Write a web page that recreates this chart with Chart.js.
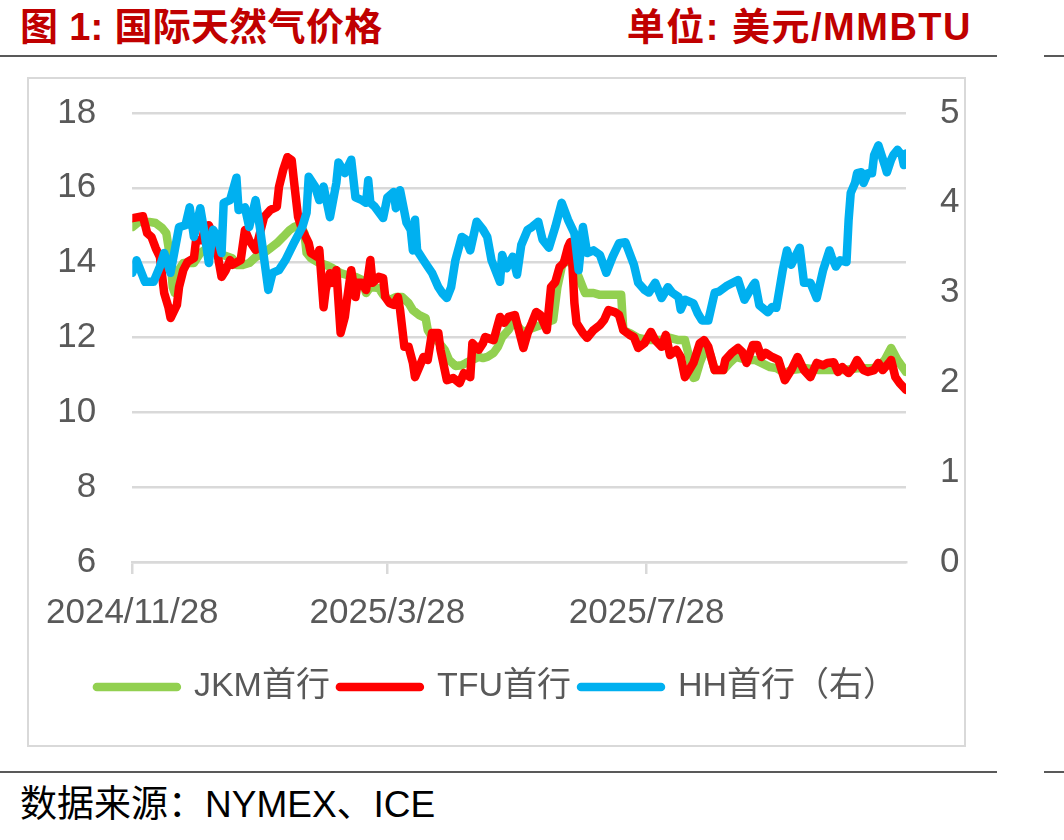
<!DOCTYPE html>
<html>
<head>
<meta charset="utf-8">
<script src="https://cdn.jsdelivr.net/npm/chart.js@4"></script>
<style>
  body { margin: 0; background: #fff; font-family: 'Liberation Sans', 'Noto Sans CJK SC', sans-serif; }
  #page { position: relative; width: 1064px; height: 840px; overflow: hidden; }
  .title { position: absolute; top: 7px; font-size: 38px; font-weight: bold; color: #c00000; line-height: 40px; white-space: nowrap; }
  .rule { position: absolute; height: 2px; background: #595959; }
  #box { position: absolute; left: 27px; top: 77px; width: 939px; height: 670px; border: 2.5px solid #d9d9d9; box-sizing: border-box; }
  #wrap { position: absolute; left: 28px; top: 78px; width: 938px; height: 667px; }
  #source { position: absolute; left: 20px; top: 785px; font-size: 37px; color: #000; line-height: 40px; white-space: nowrap; }
</style>
</head>
<body>
<div id="page">
  <div class="title" style="left:20px; letter-spacing:0.3px">图 1: 国际天然气价格</div>
  <div class="title" style="right:92px; letter-spacing:1.5px">单位: 美元/MMBTU</div>
  <div class="rule" style="left:0; top:55px; width:997px"></div>
  <div class="rule" style="left:1044px; top:55px; width:20px"></div>
  <div id="box"></div>
  <div id="wrap"><canvas id="chart"></canvas></div>
  <div class="rule" style="left:0; top:771px; width:997px"></div>
  <div class="rule" style="left:1044px; top:771px; width:20px"></div>
  <div id="source">数据来源：NYMEX、ICE</div>
</div>
<script>
// days counted from 2024/11/28
const tickDays = [0, 120, 242];
const tickLabels = ['2024/11/28', '2025/3/28', '2025/7/28'];

const jkmDays = [0,3,8,11,14,16,18,19,20,21,24,27,29,32,34,38,43,47,49,52,55,58,62,65,68,71,74,76,79,81,
  82,84,87,91,94,98,101,105,108,110,112,116,118,121,124,127,130,132,135,138,139,141,144,147,149,152,155,157,160,163,
  165,167,170,172,174,177,179,181,184,186,188,192,195,198,200,202,203,205,207,210,213,217,220,224,227,230,231,234,238,243,
  248,253,257,260,262,264,265,267,270,272,274,278,281,284,289,293,300,303,307,310,317,323,329,335,341,348,351,354,356,357,
  360,364];
const jkmValues = [14.95,15.09,15.09,15.06,14.93,14.79,14.07,13.35,13.19,13.72,
  13.99,13.99,13.99,14.26,14.34,14.28,14.20,14.12,13.94,13.94,
  13.99,14.15,14.26,14.39,14.52,14.69,14.87,14.95,15.01,14.79,
  14.26,14.12,14.02,13.94,13.86,13.72,13.67,13.62,13.54,13.19,
  13.35,13.32,13.14,13.00,13.08,13.08,12.92,12.73,12.60,12.52,
  12.20,12.01,11.88,11.67,11.40,11.24,11.26,11.32,11.40,11.48,
  11.45,11.48,11.59,11.75,12.01,12.20,12.39,12.33,12.12,12.20,
  12.25,12.33,12.41,12.47,13.35,13.88,14.02,14.02,13.99,13.62,
  13.19,13.19,13.14,13.14,13.14,13.14,12.20,12.12,11.99,11.93,
  11.93,11.99,11.93,11.93,11.48,10.92,10.94,11.32,11.75,11.53,
  11.13,11.13,11.32,11.48,11.40,11.40,11.21,11.18,11.05,11.13,
  11.18,11.13,11.13,11.13,11.18,11.18,11.21,11.40,11.61,11.72,
  11.40,11.08];

const tfuDays = [0,5,7,9,11,13,15,17,18,21,22,24,26,29,30,33,34,36,37,39,40,42,44,46,47,51,53,55,58,62,
  65,68,69,71,73,75,76,78,80,83,84,87,88,90,91,93,94,96,98,100,101,103,105,106,108,110,112,113,116,118,
  119,121,123,125,126,128,130,132,133,135,137,139,141,144,145,148,151,154,156,159,160,163,165,166,170,173,175,177,180,184,
  186,188,190,192,195,197,199,201,203,205,206,207,208,209,212,214,217,220,222,224,227,229,231,234,236,238,241,244,246,249,
  251,253,256,258,260,262,264,267,269,271,274,278,279,282,285,287,289,292,294,296,298,301,304,307,310,313,316,319,322,325,
  327,330,332,334,337,339,341,344,346,349,351,353,356,357,359,361,364];
const tfuValues = [15.19,15.24,14.79,14.69,14.39,14.15,13.19,12.81,12.52,12.87,
  13.35,13.80,14.02,14.12,14.60,14.60,14.95,15.00,14.87,14.69,
  14.26,13.62,13.80,14.07,13.94,14.07,14.87,14.60,14.34,15.22,
  15.41,15.49,16.02,16.48,16.82,16.74,16.21,15.22,14.87,14.52,
  14.26,14.15,14.34,12.81,13.27,13.72,13.46,13.80,12.12,12.55,
  13.00,13.80,13.08,13.46,13.46,13.27,14.07,13.46,13.62,13.59,
  13.08,12.92,12.87,13.08,12.73,11.75,11.75,11.32,10.94,11.21,
  11.48,11.40,12.12,12.12,11.67,10.86,10.92,10.78,11.05,10.94,
  11.85,11.67,11.85,12.01,11.93,12.55,12.39,12.55,12.60,11.72,
  12.12,12.39,12.68,12.60,12.20,13.35,13.48,13.88,13.99,14.42,
  14.55,13.99,12.92,12.39,12.12,11.99,12.20,12.33,12.47,12.73,
  12.68,12.60,12.20,12.07,12.01,11.72,11.85,12.15,11.93,11.75,
  12.07,11.53,11.67,11.48,10.94,11.13,11.32,11.85,11.93,11.75,
  11.13,11.13,11.40,11.59,11.72,11.61,11.32,11.80,11.80,11.48,
  11.59,11.48,11.40,10.86,11.13,11.48,11.13,10.94,11.32,11.26,
  11.32,11.34,11.08,11.21,11.05,11.18,11.40,11.13,11.08,11.13,
  11.32,11.13,11.32,11.40,10.94,10.78,10.60];

const hhDays = [0,2,6,10,13,15,18,22,25,27,29,32,34,36,38,40,42,43,46,49,50,53,55,58,60,64,66,69,72,76,
  80,82,83,86,88,90,93,96,97,100,103,105,108,110,111,112,114,118,120,123,124,126,129,131,132,133,134,137,139,141,
  144,146,148,150,152,155,157,159,162,165,167,169,173,174,176,179,181,183,186,188,191,193,196,199,202,205,208,210,212,214,
  217,220,223,226,229,232,236,238,241,243,246,249,252,254,257,258,260,264,266,268,271,274,276,280,285,288,292,293,295,299,
  301,303,306,308,310,314,316,319,322,325,328,329,331,333,336,337,338,340,341,343,344,346,348,349,351,354,355,357,358,360,
  362,363,364];
const hhValues = [3.22,3.36,3.12,3.12,3.29,3.44,3.22,3.73,3.75,3.95,
  3.62,3.94,3.66,3.33,3.70,3.62,3.44,4.00,4.03,4.28,
  3.92,3.95,3.73,4.03,3.73,3.03,3.22,3.25,3.36,3.55,
  3.73,3.89,4.29,4.18,4.03,4.18,3.84,4.22,4.45,4.33,
  4.48,4.06,4.03,4.00,4.25,4.00,3.96,3.83,4.06,4.12,
  3.94,4.14,3.78,3.70,3.47,3.81,3.47,3.36,3.29,3.22,
  3.06,2.99,2.94,3.06,3.36,3.62,3.59,3.47,3.79,3.70,
  3.62,3.36,3.12,3.42,3.27,3.40,3.20,3.53,3.70,3.73,
  3.79,3.59,3.50,3.73,4.00,3.81,3.66,3.25,3.73,3.44,
  3.47,3.42,3.22,3.40,3.55,3.56,3.31,3.11,3.03,3.00,
  3.11,2.94,3.06,3.00,2.95,2.81,2.92,2.88,2.77,2.69,
  2.69,3.00,3.01,3.08,3.14,2.92,3.08,3.11,2.86,2.78,
  2.84,2.83,3.25,3.47,3.31,3.50,3.11,3.11,2.94,3.25,
  3.47,3.40,3.29,3.36,3.34,3.81,4.11,4.22,4.33,4.34,
  4.22,4.33,4.33,4.53,4.64,4.42,4.34,4.48,4.53,4.59,
  4.53,4.42,4.55];

const toPoints = (days, vals) => days.map((d, i) => ({ x: d, y: vals[i] }));

// fixed axis widths; drop the label padding Chart.js adds above/below the y axes
const fixY = w => s => { s.width = w; s.paddingTop = 0; s.paddingBottom = 0; };

Chart.defaults.font.family = "'Liberation Sans', 'Noto Sans CJK SC', sans-serif";
Chart.defaults.color = '#595959';

new Chart(document.getElementById('chart'), {
  type: 'line',
  data: {
    datasets: [
      { label: 'JKM首行', data: toPoints(jkmDays, jkmValues), borderColor: '#92D050', backgroundColor: '#92D050', yAxisID: 'y', order: 3 },
      { label: 'TFU首行', data: toPoints(tfuDays, tfuValues), borderColor: '#FF0000', backgroundColor: '#FF0000', yAxisID: 'y', order: 2 },
      { label: 'HH首行（右）', data: toPoints(hhDays, hhValues), borderColor: '#00B0F0', backgroundColor: '#00B0F0', yAxisID: 'y1', order: 1 }
    ]
  },
  options: {
    responsive: true,
    maintainAspectRatio: false,
    animation: false,
    layout: { padding: { top: 35, bottom: 31, left: 0, right: 0 } },
    elements: {
      line: { borderWidth: 8.5, tension: 0, borderJoinStyle: 'round', borderCapStyle: 'round' },
      point: { radius: 0, pointStyle: 'line' }
    },
    scales: {
      x: {
        type: 'linear',
        min: 0,
        max: 364,
        afterBuildTicks: s => { s.ticks = tickDays.map(v => ({ value: v })); },
        afterFit: s => { s.height = 98; },
        ticks: {
          callback: v => tickLabels[tickDays.indexOf(v)],
          maxRotation: 0,
          autoSkip: false,
          padding: 18,
          font: { size: 35 }
        },
        grid: { drawOnChartArea: false, tickLength: 12, color: '#d9d9d9', lineWidth: 2.5 },
        border: { color: '#d9d9d9', width: 2.5 }
      },
      y: {
        position: 'left',
        min: 6,
        max: 18,
        afterFit: fixY(101),
        ticks: { stepSize: 2, padding: 36, font: { size: 35 } },
        grid: { color: '#d9d9d9', lineWidth: 2.5, drawTicks: false },
        border: { display: false }
      },
      y1: {
        position: 'right',
        min: 0,
        max: 5,
        afterFit: fixY(60),
        ticks: { stepSize: 1, padding: 34, font: { size: 35 } },
        grid: { drawOnChartArea: false, drawTicks: false },
        border: { display: false }
      }
    },
    plugins: {
      legend: {
        position: 'bottom',
        labels: {
          usePointStyle: true,
          pointStyle: 'line',
          pointStyleWidth: 80,
          padding: 10,
          font: { size: 34 },
          // thick round-capped line samples, in dataset order
          generateLabels: chart => Chart.defaults.plugins.legend.labels.generateLabels(chart)
            .map(l => Object.assign(l, { lineWidth: 8.5, lineCap: 'round' })),
          sort: (a, b) => a.datasetIndex - b.datasetIndex
        }
      },
      tooltip: { enabled: false }
    }
  }
});
</script>
</body>
</html>
